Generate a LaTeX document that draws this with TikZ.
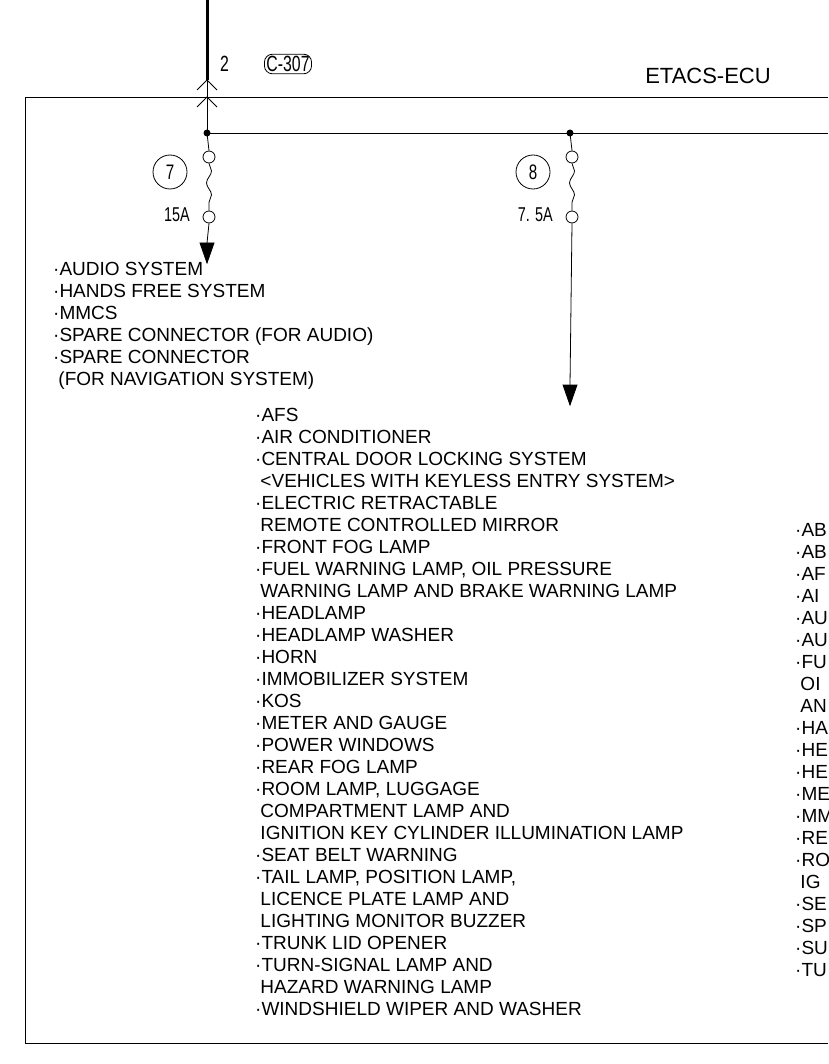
\documentclass[tikz,border=0pt]{standalone}
\usepackage{fontspec}
\setmainfont{Liberation Sans}
\newfontfamily\narrowfont[FakeStretch=0.72]{Liberation Sans}
\usetikzlibrary{decorations.pathmorphing, calc}

\tikzset{
    wire/.style={line width=0.8pt},
    fusecirc/.style={draw, circle, inner sep=0pt, minimum width=9pt, minimum height=12pt, line width=0.8pt},
    fuseno/.style={draw, circle, inner sep=0pt, minimum size=34pt, line width=0.8pt, font=\narrowfont\fontsize{21}{21}\selectfont},
    amps/.style={font=\narrowfont\fontsize{20}{20}\selectfont, anchor=east, inner sep=0pt},
    itemlist/.style={align=left, anchor=north west, inner sep=0pt, font=\fontsize{19}{22}\selectfont},
    outarrow/.style={fill, draw, line width=0.8pt}
}

\begin{document}
\begin{tikzpicture}[x=1pt, y=-1pt]
\useasboundingbox (0,0) rectangle (828,1064);
\clip (0,0) rectangle (828,1064);

% ECU box
\draw[wire] (828,97) -- (25,97) -- (25,1043) -- (828,1043);
\node[font=\fontsize{22}{22}\selectfont] (ecu) at (708,76) {ETACS-ECU};

% connector C-307
\coordinate (top) at (207,0);
\coordinate (pin) at (207,80);
\draw[line width=3pt] (top) -- (pin);
\draw[wire] (pin) -- (207,133);
\draw[wire] (197,90) -- (pin) -- (217,90);
\draw[wire] (197,107) -- (207,97) -- (217,107);
\node[font=\narrowfont\fontsize{22}{22}\selectfont, anchor=west, inner sep=0pt] (pinno) at (220,64) {2};
\node[draw, rounded corners=8pt, line width=0.8pt, inner sep=2pt, font=\narrowfont\fontsize{22}{22}\selectfont] (conn) at (288,64) {C-307};

% bus
\coordinate (j7) at (207,133);
\coordinate (j8) at (570,133);
\draw[wire] (j7) -- (828,133);
\fill (j7) circle (3.5pt);
\fill (j8) circle (3.5pt);

% fuses
\foreach \x/\n/\a/\tip in {207/7/15A/263, 570/8/7. 5A/405}
{
    \node[fusecirc] (fa\n) at (\x+2,157) {};
    \node[fusecirc] (fb\n) at (\x+2,217) {};
    \draw[wire] (\x,133) -- (fa\n.north);
    \draw[wire, decorate, decoration={snake, amplitude=2.5pt, segment length=24pt}] (fa\n.south) -- (fb\n.north);
    \coordinate (tip\n) at (\x,\tip);
    \draw[wire] (fb\n.south) -- ($(tip\n)+(0,-20)$);
    \draw[outarrow] (tip\n) -- ++(-7,-20) -- ++(14,0) -- cycle;
    \node[fuseno] (no\n) at (\x-37,172) {\n};
    \node[amps] (amp\n) at (\x-17,215) {\a};
}

% lists
\node[itemlist] (list7) at (53,262) {%
·AUDIO SYSTEM\\
·HANDS FREE SYSTEM\\
·MMCS\\
·SPARE CONNECTOR (FOR AUDIO)\\
·SPARE CONNECTOR\\
\ (FOR NAVIGATION SYSTEM)};

\node[itemlist] (list8) at (255,408) {%
·AFS\\
·AIR CONDITIONER\\
·CENTRAL DOOR LOCKING SYSTEM\\
\ <VEHICLES WITH KEYLESS ENTRY SYSTEM>\\
·ELECTRIC RETRACTABLE\\
\ REMOTE CONTROLLED MIRROR\\
·FRONT FOG LAMP\\
·FUEL WARNING LAMP, OIL PRESSURE\\
\ WARNING LAMP AND BRAKE WARNING LAMP\\
·HEADLAMP\\
·HEADLAMP WASHER\\
·HORN\\
·IMMOBILIZER SYSTEM\\
·KOS\\
·METER AND GAUGE\\
·POWER WINDOWS\\
·REAR FOG LAMP\\
·ROOM LAMP, LUGGAGE\\
\ COMPARTMENT LAMP AND\\
\ IGNITION KEY CYLINDER ILLUMINATION LAMP\\
·SEAT BELT WARNING\\
·TAIL LAMP, POSITION LAMP,\\
\ LICENCE PLATE LAMP AND\\
\ LIGHTING MONITOR BUZZER\\
·TRUNK LID OPENER\\
·TURN-SIGNAL LAMP AND\\
\ HAZARD WARNING LAMP\\
·WINDSHIELD WIPER AND WASHER};

\node[itemlist] (list9) at (795,523) {%
·AB\\ ·AB\\ ·AF\\ ·AI\\ ·AU\\ ·AU\\ ·FU\\ \ OI\\ \ AN\\ ·HA\\ ·HE\\ ·HE\\ ·ME\\
·MM\\ ·RE\\ ·RO\\ \ IG\\ ·SE\\ ·SP\\ ·SU\\ ·TU};
\end{tikzpicture}
\end{document}
